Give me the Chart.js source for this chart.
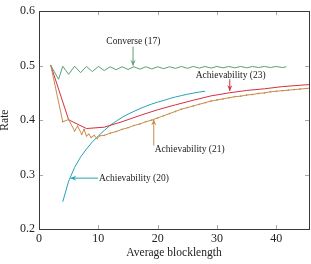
<!DOCTYPE html>
<html lang="en">
<head>
<meta charset="UTF-8">
<title>Rate vs average blocklength</title>
<script src="https://cdn.jsdelivr.net/npm/chart.js"></script>
<style>
  html, body { margin: 0; padding: 0; background: #fff; }
  #wrap { width: 311px; height: 264px; }
</style>
</head>
<body>
<div id="wrap"><canvas id="rateChart" width="311" height="264"></canvas></div>
<script>
// Converse (17)
const converseX = [2, 3.3, 4, 5, 6, 7, 8, 9, 10, 11, 12, 13, 14, 15, 16, 17, 18, 19, 20, 21, 22, 23, 24, 25, 26, 27, 28, 29, 30, 31, 32, 33, 34, 35, 36, 37, 38, 39, 40, 41, 41.7];
const converseY = [0.5, 0.475, 0.499, 0.484, 0.499, 0.487, 0.4985, 0.489, 0.4985, 0.491, 0.498, 0.4925, 0.498, 0.493, 0.498, 0.4935, 0.498, 0.494, 0.498, 0.4945, 0.498, 0.495, 0.4985, 0.495, 0.4985, 0.4955, 0.4985, 0.4955, 0.4985, 0.496, 0.4985, 0.496, 0.4985, 0.496, 0.4985, 0.4965, 0.4985, 0.4965, 0.4985, 0.4965, 0.498];

// Achievability (23)
const ach23X = [2, 5, 8, 11, 14, 17, 20, 23, 26, 29, 32, 35, 38, 41, 44, 46];
const ach23Y = [0.5, 0.4005, 0.3845, 0.387, 0.397, 0.4085, 0.419, 0.428, 0.4365, 0.4445, 0.45, 0.4545, 0.4575, 0.4615, 0.464, 0.4655];

// Achievability (21)
const ach21X = [2, 4, 5, 6, 6.5, 7.2, 7.6, 8, 8.4, 8.8, 9.3, 9.8, 10.2, 11, 12, 13, 14, 15, 16, 17, 18, 19, 20, 21, 22, 23, 24, 25, 26, 27, 28, 29, 30, 31, 32, 33, 34, 35, 36, 37, 38, 39, 40, 41, 42, 43, 44, 45, 46];
const ach21Y = [0.5, 0.397, 0.401, 0.38, 0.389, 0.374, 0.383, 0.371, 0.374, 0.368, 0.372, 0.366, 0.371, 0.372, 0.376, 0.379, 0.383, 0.386, 0.39, 0.393, 0.397, 0.4, 0.404, 0.408, 0.412, 0.416, 0.42, 0.423, 0.426, 0.429, 0.432, 0.435, 0.437, 0.439, 0.441, 0.443, 0.444, 0.446, 0.447, 0.449, 0.45, 0.452, 0.453, 0.454, 0.455, 0.456, 0.457, 0.458, 0.459];

// Achievability (20)
const ach20X = [4, 5, 6, 7, 8, 9, 10, 11, 12, 13, 14, 15, 16, 17, 18, 19, 20, 21, 22, 23, 24, 25, 26, 27, 28];
const ach20Y = [0.25, 0.288, 0.313, 0.332, 0.347, 0.36, 0.371, 0.381, 0.3905, 0.398, 0.405, 0.411, 0.416, 0.421, 0.4255, 0.4295, 0.433, 0.436, 0.4395, 0.4425, 0.445, 0.4475, 0.4495, 0.4515, 0.453];

const xTicks = [0, 10, 20, 30, 40];
const yTicks = [0.2, 0.3, 0.4, 0.5, 0.6];

const colGreen = '#5c9e78';
const colRed = '#d2303f';
const colOrange = '#c68c4c';
const colCyan = '#26a2b4';

function pts(xs, ys) {
  return xs.map((x, i) => ({ x: x, y: ys[i] }));
}

// label + arrow, in data units
const notes = [
  { text: 'Converse (17)', tx: 15.9, ty: 0.545, align: 'center', from: [15.85, 0.535], to: [15.85, 0.5], color: colGreen },
  { text: 'Achievability (23)', tx: 32.3, ty: 0.4827, align: 'center', from: [32.15, 0.475], to: [32.15, 0.4535], color: colRed },
  { text: 'Achievability (21)', tx: 19.5, ty: 0.3464, align: 'left', from: [19.34, 0.353], to: [19.34, 0.401], color: colOrange },
  { text: 'Achievability (20)', tx: 10.1, ty: 0.2934, align: 'left', from: [9.95, 0.2934], to: [5.3, 0.2934], color: colCyan }
];

const framePlugin = {
  id: 'frame',
  afterDatasetsDraw(chart) {
    const ctx = chart.ctx;
    const a = chart.chartArea;
    const xs = chart.scales.x, ys = chart.scales.y;
    ctx.save();
    // inner ticks on all four sides
    ctx.strokeStyle = '#a8a8a8';
    ctx.lineWidth = 1;
    ctx.beginPath();
    xTicks.forEach(v => {
      const px = Math.round(xs.getPixelForValue(v)) + 0.5;
      ctx.moveTo(px, a.bottom); ctx.lineTo(px, a.bottom - 4);
      ctx.moveTo(px, a.top); ctx.lineTo(px, a.top + 4);
    });
    yTicks.forEach(v => {
      const py = Math.round(ys.getPixelForValue(v)) + 0.5;
      ctx.moveTo(a.left, py); ctx.lineTo(a.left + 4, py);
      ctx.moveTo(a.right, py); ctx.lineTo(a.right - 4, py);
    });
    ctx.stroke();
    // box
    ctx.strokeStyle = '#3a3a3a';
    ctx.strokeRect(Math.round(a.left) + 0.5, Math.round(a.top) + 0.5,
      Math.round(a.right - a.left), Math.round(a.bottom - a.top));

    // annotations
    notes.forEach(n => {
      const x0 = xs.getPixelForValue(n.from[0]), y0 = ys.getPixelForValue(n.from[1]);
      const x1 = xs.getPixelForValue(n.to[0]), y1 = ys.getPixelForValue(n.to[1]);
      ctx.strokeStyle = n.color;
      ctx.fillStyle = n.color;
      ctx.lineWidth = 1;
      ctx.beginPath();
      ctx.moveTo(x0, y0); ctx.lineTo(x1, y1);
      ctx.stroke();
      const ang = Math.atan2(y1 - y0, x1 - x0);
      const L = 6, W = 2.6;
      ctx.beginPath();
      ctx.moveTo(x1, y1);
      ctx.lineTo(x1 - L * Math.cos(ang) + W * Math.sin(ang), y1 - L * Math.sin(ang) - W * Math.cos(ang));
      ctx.lineTo(x1 - 0.6 * L * Math.cos(ang), y1 - 0.6 * L * Math.sin(ang));
      ctx.lineTo(x1 - L * Math.cos(ang) - W * Math.sin(ang), y1 - L * Math.sin(ang) + W * Math.cos(ang));
      ctx.closePath();
      ctx.fill();

      ctx.fillStyle = '#222';
      ctx.font = "9.5px 'Liberation Serif', serif";
      ctx.textAlign = n.align;
      ctx.textBaseline = 'middle';
      ctx.fillText(n.text, xs.getPixelForValue(n.tx), ys.getPixelForValue(n.ty));
    });
    ctx.restore();
  }
};

Chart.defaults.font.family = "'Liberation Serif', serif";
Chart.defaults.color = '#222';

const lineStyle = (color, r) => ({
  borderColor: color,
  backgroundColor: color,
  borderWidth: 1,
  pointRadius: r,
  pointHoverRadius: 0,
  tension: 0,
  fill: false
});

new Chart(document.getElementById('rateChart'), {
  type: 'line',
  data: {
    datasets: [
      Object.assign({ label: 'Converse (17)', data: pts(converseX, converseY) }, lineStyle(colGreen, 0)),
      Object.assign({ label: 'Achievability (21)', data: pts(ach21X, ach21Y) }, lineStyle(colOrange, 0.45)),
      Object.assign({ label: 'Achievability (23)', data: pts(ach23X, ach23Y) }, lineStyle(colRed, 0)),
      Object.assign({ label: 'Achievability (20)', data: pts(ach20X, ach20Y) }, lineStyle(colCyan, 0))
    ]
  },
  options: {
    responsive: false,
    animation: false,
    events: [],
    layout: { padding: { top: 5, right: 2, left: 0, bottom: 0 } },
    plugins: { legend: { display: false }, tooltip: { enabled: false } },
    scales: {
      x: {
        type: 'linear',
        min: 0,
        max: 45.5,
        afterFit: s => { s.height = 35; },
        grid: { display: false, drawTicks: false },
        border: { display: false },
        ticks: { stepSize: 10, includeBounds: false, padding: 3, font: { size: 12 }, color: '#222' },
        title: { display: true, text: 'Average blocklength', font: { size: 11.5 }, padding: { top: 0, bottom: 4 }, color: '#222' }
      },
      y: {
        type: 'linear',
        min: 0.2,
        max: 0.6,
        afterFit: s => { s.width = 39; },
        grid: { display: false, drawTicks: false },
        border: { display: false },
        ticks: { stepSize: 0.1, padding: 4, font: { size: 12 }, color: '#222', callback: v => v.toFixed(1) },
        title: { display: true, text: 'Rate', font: { size: 11.5 }, padding: { top: -2, bottom: 0 }, color: '#222' }
      }
    }
  },
  plugins: [framePlugin]
});
</script>
</body>
</html>
